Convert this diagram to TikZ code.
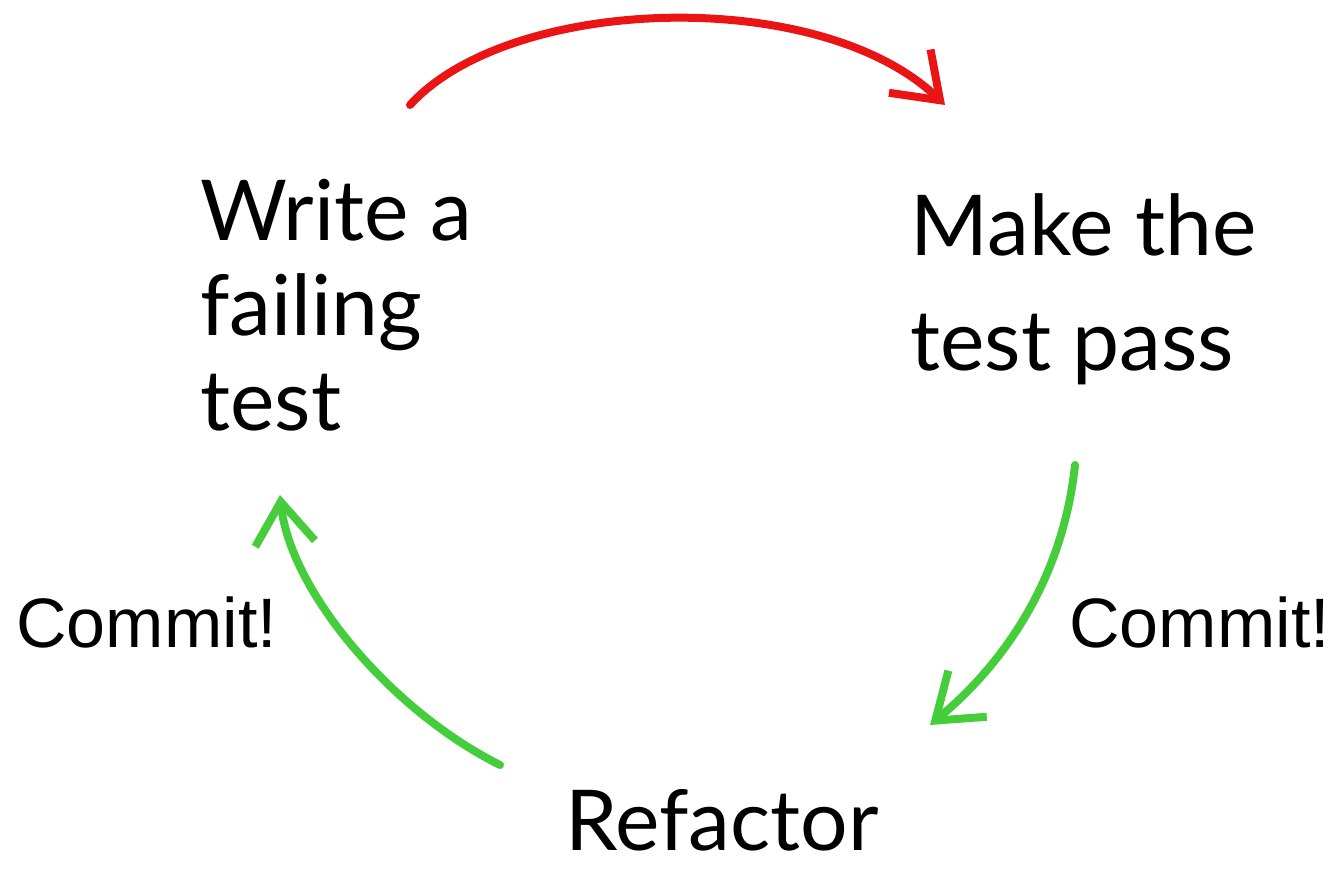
\documentclass[tikz,border=0pt]{standalone}
\usepackage{fontspec}
\setmainfont{Liberation Sans}
\newfontfamily\hand{Lato}
\usetikzlibrary{arrows.meta}
\definecolor{arcred}{RGB}{235,20,20}
\definecolor{arcgreen}{RGB}{70,205,60}
\tikzset{
  handtext/.style={inner sep=0pt, anchor=base west, align=left, font=\hand\fontsize{42}{47.5}\selectfont},
  handtextR/.style={handtext, font=\hand\fontsize{42}{57.5}\selectfont},
  committext/.style={inner sep=0pt, anchor=base west, font=\fontsize{35}{40}\selectfont},
  arc/.style={line width=4pt, line cap=round, line join=round, -{Straight Barb[length=21pt,width=30pt,line width=4pt]}},
}
\begin{document}
\begin{tikzpicture}[x=0.5pt,y=-0.5pt]
\useasboundingbox (0,0) rectangle (1333,878);
\node[handtext] (write) at (200,430) {Write a\\failing\\test};
\node[handtextR] (make) at (910,370) {Make the\\test pass};
\node[handtext] (refactor) at (565,850) {Refactor};
\node[committext] (commitL) at (16,647) {Commit!};
\node[committext] (commitR) at (1069,647) {Commit!};
\coordinate (r1) at (410,105);
\coordinate (r2) at (945,105);
\coordinate (g1) at (1075,465);
\coordinate (g2) at (930,725);
\coordinate (l1) at (500,765);
\coordinate (l2) at (280,495);
\draw[arc, arcred] (r1) .. controls (510,-5) and (820,-15) .. (r2);
\draw[arc, arcgreen] (g1) .. controls (1065,560) and (1020,650) .. (g2);
\draw[arc, arcgreen] (l1) .. controls (390,710) and (290,590) .. (l2);
\end{tikzpicture}
\end{document}
